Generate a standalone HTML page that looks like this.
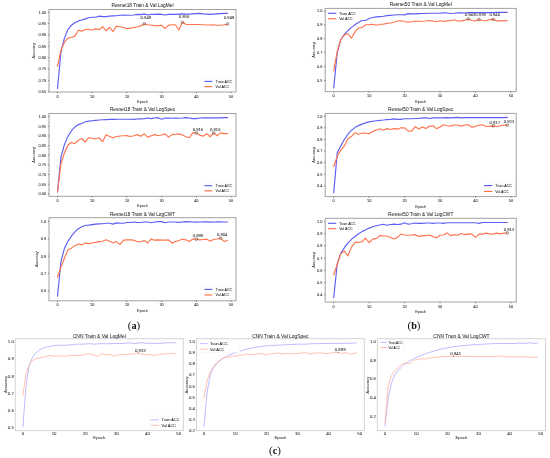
<!DOCTYPE html>
<html><head><meta charset="utf-8"><style>
html,body{margin:0;padding:0;background:#fff;}
body{width:550px;height:458px;overflow:hidden;}
svg{display:block;font-family:"Liberation Sans", sans-serif;}
</style></head><body>
<svg width="550" height="458" viewBox="0 0 550 458">
<rect width="550" height="458" fill="#fff"/>
<polyline points="57.50,88.44 60.97,51.73 64.44,38.13 67.91,29.52 71.38,25.22 74.85,22.72 78.32,20.91 81.79,20.00 85.26,18.87 88.73,17.74 92.20,17.29 95.67,17.29 99.14,16.15 102.61,16.61 106.08,16.61 109.55,16.15 113.02,15.93 116.49,15.70 119.96,15.25 123.43,15.02 126.90,15.25 130.37,15.25 133.84,15.02 137.31,14.34 140.78,14.57 144.25,13.89 147.72,15.02 151.19,14.34 154.66,14.34 158.13,14.11 161.60,14.34 165.07,15.02 168.54,14.34 172.01,14.34 175.48,14.34 178.95,14.11 182.42,13.89 185.89,14.11 189.36,14.11 192.83,13.89 196.30,13.66 199.77,13.43 203.24,13.89 206.71,14.11 210.18,14.34 213.65,14.11 217.12,13.89 220.59,13.66 224.06,13.43 227.53,13.43" fill="none" stroke="#5d5df5" stroke-width="1.15" stroke-linejoin="round" stroke-linecap="round"/>
<polyline points="57.50,66.46 60.97,50.14 64.44,42.21 67.91,38.13 71.38,37.45 74.85,36.09 78.32,30.20 81.79,31.11 85.26,29.52 88.73,29.29 92.20,30.20 95.67,28.62 99.14,29.75 102.61,26.58 106.08,30.88 109.55,27.26 113.02,31.56 116.49,26.12 119.96,26.80 123.43,27.48 126.90,28.62 130.37,28.16 133.84,27.48 137.31,26.80 140.78,25.90 144.25,23.86 147.72,24.76 151.19,25.22 154.66,25.67 158.13,25.90 161.60,25.22 165.07,28.62 168.54,25.22 172.01,24.76 175.48,24.76 178.95,29.97 182.42,22.27 185.89,24.31 189.36,24.54 192.83,24.54 196.30,24.54 199.77,24.54 203.24,24.76 206.71,24.99 210.18,24.99 213.65,24.76 217.12,25.22 220.59,25.22 224.06,24.76 227.53,24.08" fill="none" stroke="#ff744c" stroke-width="1.15" stroke-linejoin="round" stroke-linecap="round"/>
<rect x="49" y="9.5" width="187.00" height="82.50" fill="none" stroke="#a2a2a2" stroke-width="1.0"/>
<line x1="47.80" y1="12.30" x2="49" y2="12.30" stroke="#555" stroke-width="0.7"/>
<line x1="47.80" y1="23.63" x2="49" y2="23.63" stroke="#555" stroke-width="0.7"/>
<line x1="47.80" y1="34.96" x2="49" y2="34.96" stroke="#555" stroke-width="0.7"/>
<line x1="47.80" y1="46.29" x2="49" y2="46.29" stroke="#555" stroke-width="0.7"/>
<line x1="47.80" y1="57.62" x2="49" y2="57.62" stroke="#555" stroke-width="0.7"/>
<line x1="47.80" y1="68.95" x2="49" y2="68.95" stroke="#555" stroke-width="0.7"/>
<line x1="47.80" y1="80.28" x2="49" y2="80.28" stroke="#555" stroke-width="0.7"/>
<line x1="47.80" y1="91.61" x2="49" y2="91.61" stroke="#555" stroke-width="0.7"/>
<line x1="57.50" y1="92" x2="57.50" y2="93.20" stroke="#555" stroke-width="0.7"/>
<line x1="92.20" y1="92" x2="92.20" y2="93.20" stroke="#555" stroke-width="0.7"/>
<line x1="126.90" y1="92" x2="126.90" y2="93.20" stroke="#555" stroke-width="0.7"/>
<line x1="161.60" y1="92" x2="161.60" y2="93.20" stroke="#555" stroke-width="0.7"/>
<line x1="196.30" y1="92" x2="196.30" y2="93.20" stroke="#555" stroke-width="0.7"/>
<line x1="231.00" y1="92" x2="231.00" y2="93.20" stroke="#555" stroke-width="0.7"/>
<rect x="203.2" y="78.4" width="30.60" height="11.80" rx="0.8" fill="#fff" fill-opacity="0.8" stroke="#ececec" stroke-width="0.3"/>
<line x1="204.5" y1="81.4" x2="212.3" y2="81.4" stroke="#5d5df5" stroke-width="1.15"/>
<line x1="204.5" y1="86.6" x2="212.3" y2="86.6" stroke="#ff744c" stroke-width="1.15"/>
<circle cx="144.25" cy="23.86" r="1.4" fill="none" stroke="#444" stroke-width="0.5"/>
<circle cx="182.42" cy="22.27" r="1.4" fill="none" stroke="#444" stroke-width="0.5"/>
<circle cx="227.53" cy="24.08" r="1.4" fill="none" stroke="#444" stroke-width="0.5"/>
<polyline points="57.50,192.07 60.97,157.18 64.44,144.46 67.91,136.36 71.38,130.96 74.85,126.92 78.32,124.60 81.79,123.45 85.26,121.71 88.73,121.13 92.20,120.75 95.67,120.36 99.14,119.98 102.61,119.78 106.08,119.59 109.55,119.40 113.02,119.30 116.49,119.30 119.96,119.21 123.43,119.21 126.90,119.21 130.37,119.21 133.84,119.40 137.31,119.01 140.78,118.82 144.25,118.63 147.72,118.05 151.19,118.63 154.66,118.05 158.13,117.66 161.60,119.21 165.07,118.05 168.54,118.05 172.01,118.24 175.48,118.05 178.95,118.24 182.42,118.05 185.89,117.66 189.36,118.05 192.83,118.63 196.30,118.63 199.77,118.05 203.24,117.86 206.71,117.86 210.18,117.86 213.65,117.86 217.12,117.86 220.59,117.86 224.06,117.66 227.53,117.66" fill="none" stroke="#5d5df5" stroke-width="1.15" stroke-linejoin="round" stroke-linecap="round"/>
<polyline points="57.50,192.07 60.97,163.73 64.44,152.94 67.91,145.03 71.38,142.53 74.85,143.69 78.32,140.22 81.79,138.48 85.26,142.14 88.73,137.71 92.20,138.29 95.67,139.06 99.14,137.71 102.61,141.76 106.08,134.63 109.55,136.55 113.02,137.71 116.49,136.55 119.96,135.97 123.43,135.78 126.90,135.59 130.37,136.55 133.84,135.78 137.31,134.63 140.78,136.17 144.25,133.85 147.72,137.13 151.19,135.78 154.66,134.63 158.13,135.78 161.60,135.01 165.07,133.85 168.54,137.13 172.01,134.63 175.48,134.24 178.95,133.85 182.42,135.01 185.89,136.75 189.36,137.71 192.83,132.70 196.30,132.89 199.77,135.20 203.24,136.17 206.71,133.66 210.18,136.75 213.65,132.89 217.12,135.78 220.59,132.89 224.06,133.66 227.53,133.66" fill="none" stroke="#ff744c" stroke-width="1.15" stroke-linejoin="round" stroke-linecap="round"/>
<rect x="49" y="113.5" width="187.00" height="82.80" fill="none" stroke="#a2a2a2" stroke-width="1.0"/>
<line x1="47.80" y1="116.70" x2="49" y2="116.70" stroke="#555" stroke-width="0.7"/>
<line x1="47.80" y1="126.34" x2="49" y2="126.34" stroke="#555" stroke-width="0.7"/>
<line x1="47.80" y1="135.97" x2="49" y2="135.97" stroke="#555" stroke-width="0.7"/>
<line x1="47.80" y1="145.61" x2="49" y2="145.61" stroke="#555" stroke-width="0.7"/>
<line x1="47.80" y1="155.25" x2="49" y2="155.25" stroke="#555" stroke-width="0.7"/>
<line x1="47.80" y1="164.89" x2="49" y2="164.89" stroke="#555" stroke-width="0.7"/>
<line x1="47.80" y1="174.53" x2="49" y2="174.53" stroke="#555" stroke-width="0.7"/>
<line x1="47.80" y1="184.16" x2="49" y2="184.16" stroke="#555" stroke-width="0.7"/>
<line x1="47.80" y1="193.80" x2="49" y2="193.80" stroke="#555" stroke-width="0.7"/>
<line x1="57.50" y1="196.3" x2="57.50" y2="197.50" stroke="#555" stroke-width="0.7"/>
<line x1="92.20" y1="196.3" x2="92.20" y2="197.50" stroke="#555" stroke-width="0.7"/>
<line x1="126.90" y1="196.3" x2="126.90" y2="197.50" stroke="#555" stroke-width="0.7"/>
<line x1="161.60" y1="196.3" x2="161.60" y2="197.50" stroke="#555" stroke-width="0.7"/>
<line x1="196.30" y1="196.3" x2="196.30" y2="197.50" stroke="#555" stroke-width="0.7"/>
<line x1="231.00" y1="196.3" x2="231.00" y2="197.50" stroke="#555" stroke-width="0.7"/>
<rect x="203.2" y="182.7" width="30.60" height="11.80" rx="0.8" fill="#fff" fill-opacity="0.8" stroke="#ececec" stroke-width="0.3"/>
<line x1="204.5" y1="185.7" x2="212.3" y2="185.7" stroke="#5d5df5" stroke-width="1.15"/>
<line x1="204.5" y1="190.9" x2="212.3" y2="190.9" stroke="#ff744c" stroke-width="1.15"/>
<circle cx="196.30" cy="132.89" r="1.4" fill="none" stroke="#444" stroke-width="0.5"/>
<circle cx="213.65" cy="132.89" r="1.4" fill="none" stroke="#444" stroke-width="0.5"/>
<polyline points="57.50,296.24 60.97,261.29 64.44,248.31 67.91,241.40 71.38,236.20 74.85,231.88 78.32,228.77 81.79,226.69 85.26,225.48 88.73,225.13 92.20,224.61 95.67,224.09 99.14,223.92 102.61,223.75 106.08,223.23 109.55,223.23 113.02,224.09 116.49,222.88 119.96,223.23 123.43,223.23 126.90,222.54 130.37,222.54 133.84,222.02 137.31,222.54 140.78,222.54 144.25,222.02 147.72,222.02 151.19,222.71 154.66,222.02 158.13,221.67 161.60,221.67 165.07,222.71 168.54,222.02 172.01,222.02 175.48,222.02 178.95,222.37 182.42,222.02 185.89,221.67 189.36,221.85 192.83,222.02 196.30,222.19 199.77,222.02 203.24,221.85 206.71,221.85 210.18,222.19 213.65,222.02 217.12,221.85 220.59,221.85 224.06,222.02 227.53,222.02" fill="none" stroke="#5d5df5" stroke-width="1.15" stroke-linejoin="round" stroke-linecap="round"/>
<polyline points="57.50,277.21 60.97,267.17 64.44,258.00 67.91,250.05 71.38,248.14 74.85,245.72 78.32,243.99 81.79,244.85 85.26,242.95 88.73,243.64 92.20,242.95 95.67,242.43 99.14,241.57 102.61,241.22 106.08,239.84 109.55,241.22 113.02,242.78 116.49,241.57 119.96,244.68 123.43,240.18 126.90,239.84 130.37,239.84 133.84,240.18 137.31,241.74 140.78,241.74 144.25,240.53 147.72,242.95 151.19,239.15 154.66,240.18 158.13,239.84 161.60,240.18 165.07,240.18 168.54,239.84 172.01,243.12 175.48,241.57 178.95,240.53 182.42,239.32 185.89,239.84 189.36,241.57 192.83,238.97 196.30,239.15 199.77,239.84 203.24,239.49 206.71,239.15 210.18,241.05 213.65,239.49 217.12,238.97 220.59,238.11 224.06,241.40 227.53,240.53" fill="none" stroke="#ff744c" stroke-width="1.15" stroke-linejoin="round" stroke-linecap="round"/>
<rect x="49" y="217.7" width="187.00" height="83.10" fill="none" stroke="#a2a2a2" stroke-width="1.0"/>
<line x1="47.80" y1="221.50" x2="49" y2="221.50" stroke="#555" stroke-width="0.7"/>
<line x1="47.80" y1="238.80" x2="49" y2="238.80" stroke="#555" stroke-width="0.7"/>
<line x1="47.80" y1="256.10" x2="49" y2="256.10" stroke="#555" stroke-width="0.7"/>
<line x1="47.80" y1="273.40" x2="49" y2="273.40" stroke="#555" stroke-width="0.7"/>
<line x1="47.80" y1="290.70" x2="49" y2="290.70" stroke="#555" stroke-width="0.7"/>
<line x1="57.50" y1="300.8" x2="57.50" y2="302.00" stroke="#555" stroke-width="0.7"/>
<line x1="92.20" y1="300.8" x2="92.20" y2="302.00" stroke="#555" stroke-width="0.7"/>
<line x1="126.90" y1="300.8" x2="126.90" y2="302.00" stroke="#555" stroke-width="0.7"/>
<line x1="161.60" y1="300.8" x2="161.60" y2="302.00" stroke="#555" stroke-width="0.7"/>
<line x1="196.30" y1="300.8" x2="196.30" y2="302.00" stroke="#555" stroke-width="0.7"/>
<line x1="231.00" y1="300.8" x2="231.00" y2="302.00" stroke="#555" stroke-width="0.7"/>
<rect x="203.2" y="286.4" width="30.60" height="12.20" rx="0.8" fill="#fff" fill-opacity="0.8" stroke="#ececec" stroke-width="0.3"/>
<line x1="204.5" y1="289.4" x2="212.3" y2="289.4" stroke="#5d5df5" stroke-width="1.15"/>
<line x1="204.5" y1="295.0" x2="212.3" y2="295.0" stroke="#ff744c" stroke-width="1.15"/>
<circle cx="196.30" cy="239.15" r="1.4" fill="none" stroke="#444" stroke-width="0.5"/>
<circle cx="220.59" cy="238.11" r="1.4" fill="none" stroke="#444" stroke-width="0.5"/>
<polyline points="333.70,87.87 337.24,52.70 340.79,39.77 344.33,34.35 347.88,30.60 351.42,27.40 354.96,24.76 358.51,22.26 362.05,20.45 365.60,20.45 369.14,18.51 372.68,17.53 376.23,16.84 379.77,16.56 383.32,16.28 386.86,15.59 390.40,15.31 393.95,15.03 397.49,14.75 401.04,14.75 404.58,14.89 408.12,13.64 411.67,13.92 415.21,13.92 418.76,13.64 422.30,13.50 425.84,13.50 429.39,13.22 432.93,13.22 436.48,13.22 440.02,13.22 443.56,12.81 447.11,12.95 450.65,13.50 454.20,13.22 457.74,12.81 461.28,12.81 464.83,12.95 468.37,12.67 471.92,12.67 475.46,12.67 479.00,12.67 482.55,12.67 486.09,12.67 489.64,12.67 493.18,12.67 496.72,12.39 500.27,12.39 503.81,12.39 507.36,12.39" fill="none" stroke="#5d5df5" stroke-width="1.15" stroke-linejoin="round" stroke-linecap="round"/>
<polyline points="333.70,70.91 337.24,51.31 340.79,39.49 344.33,35.05 347.88,33.52 351.42,38.24 354.96,31.85 358.51,27.96 362.05,27.68 365.60,24.76 369.14,24.62 372.68,24.20 376.23,25.18 379.77,24.20 383.32,24.20 386.86,23.37 390.40,22.95 393.95,22.26 397.49,21.01 401.04,20.73 404.58,21.70 408.12,22.12 411.67,21.70 415.21,21.01 418.76,21.29 422.30,21.29 425.84,21.01 429.39,20.45 432.93,21.01 436.48,21.70 440.02,20.73 443.56,21.56 447.11,20.87 450.65,20.73 454.20,19.76 457.74,21.01 461.28,20.87 464.83,20.17 468.37,18.92 471.92,20.45 475.46,20.87 479.00,19.48 482.55,20.45 486.09,20.73 489.64,19.62 493.18,19.34 496.72,20.87 500.27,20.87 503.81,20.45 507.36,20.73" fill="none" stroke="#ff744c" stroke-width="1.15" stroke-linejoin="round" stroke-linecap="round"/>
<rect x="325.2" y="8.4" width="191.00" height="83.20" fill="none" stroke="#a2a2a2" stroke-width="1.0"/>
<line x1="324.00" y1="11.00" x2="325.2" y2="11.00" stroke="#555" stroke-width="0.7"/>
<line x1="324.00" y1="24.90" x2="325.2" y2="24.90" stroke="#555" stroke-width="0.7"/>
<line x1="324.00" y1="38.80" x2="325.2" y2="38.80" stroke="#555" stroke-width="0.7"/>
<line x1="324.00" y1="52.70" x2="325.2" y2="52.70" stroke="#555" stroke-width="0.7"/>
<line x1="324.00" y1="66.60" x2="325.2" y2="66.60" stroke="#555" stroke-width="0.7"/>
<line x1="324.00" y1="80.50" x2="325.2" y2="80.50" stroke="#555" stroke-width="0.7"/>
<line x1="333.70" y1="91.6" x2="333.70" y2="92.80" stroke="#555" stroke-width="0.7"/>
<line x1="369.14" y1="91.6" x2="369.14" y2="92.80" stroke="#555" stroke-width="0.7"/>
<line x1="404.58" y1="91.6" x2="404.58" y2="92.80" stroke="#555" stroke-width="0.7"/>
<line x1="440.02" y1="91.6" x2="440.02" y2="92.80" stroke="#555" stroke-width="0.7"/>
<line x1="475.46" y1="91.6" x2="475.46" y2="92.80" stroke="#555" stroke-width="0.7"/>
<line x1="510.90" y1="91.6" x2="510.90" y2="92.80" stroke="#555" stroke-width="0.7"/>
<rect x="326.7" y="9.9" width="31.80" height="11.80" rx="0.8" fill="#fff" fill-opacity="0.8" stroke="#ececec" stroke-width="0.3"/>
<line x1="328" y1="13.3" x2="336.3" y2="13.3" stroke="#5d5df5" stroke-width="1.15"/>
<line x1="328" y1="18.8" x2="336.3" y2="18.8" stroke="#ff744c" stroke-width="1.15"/>
<circle cx="468.37" cy="18.92" r="1.4" fill="none" stroke="#444" stroke-width="0.5"/>
<circle cx="479.00" cy="19.48" r="1.4" fill="none" stroke="#444" stroke-width="0.5"/>
<circle cx="493.18" cy="19.34" r="1.4" fill="none" stroke="#444" stroke-width="0.5"/>
<polyline points="333.70,192.84 337.24,152.83 340.79,145.86 344.33,139.46 347.88,134.23 351.42,130.39 354.96,127.60 358.51,125.62 362.05,124.11 365.60,122.83 369.14,121.90 372.68,121.20 376.23,120.74 379.77,120.39 383.32,120.04 386.86,119.57 390.40,119.34 393.95,118.87 397.49,119.34 401.04,119.34 404.58,118.76 408.12,118.76 411.67,118.76 415.21,118.53 418.76,118.53 422.30,117.94 425.84,117.94 429.39,118.53 432.93,117.94 436.48,117.94 440.02,117.94 443.56,117.94 447.11,117.60 450.65,117.94 454.20,117.60 457.74,117.36 461.28,117.94 464.83,117.60 468.37,117.60 471.92,117.60 475.46,117.60 479.00,117.60 482.55,117.60 486.09,117.60 489.64,117.60 493.18,117.60 496.72,117.60 500.27,117.60 503.81,117.60 507.36,117.36" fill="none" stroke="#5d5df5" stroke-width="1.15" stroke-linejoin="round" stroke-linecap="round"/>
<polyline points="333.70,166.44 337.24,156.32 340.79,150.16 344.33,145.97 347.88,138.76 351.42,136.55 354.96,132.71 358.51,134.23 362.05,132.95 365.60,133.30 369.14,133.65 372.68,131.44 376.23,130.16 379.77,128.76 383.32,130.27 386.86,128.64 390.40,129.46 393.95,128.64 397.49,129.11 401.04,127.83 404.58,127.83 408.12,130.85 411.67,131.20 415.21,126.55 418.76,129.11 422.30,126.90 425.84,128.53 429.39,126.32 432.93,125.74 436.48,128.64 440.02,126.90 443.56,124.81 447.11,125.74 450.65,126.09 454.20,125.04 457.74,125.04 461.28,126.09 464.83,125.04 468.37,124.81 471.92,127.25 475.46,126.32 479.00,125.27 482.55,124.81 486.09,126.55 489.64,126.32 493.18,125.85 496.72,126.55 500.27,125.74 503.81,125.04 507.36,125.16" fill="none" stroke="#ff744c" stroke-width="1.15" stroke-linejoin="round" stroke-linecap="round"/>
<rect x="325.2" y="113.4" width="191.00" height="83.20" fill="none" stroke="#a2a2a2" stroke-width="1.0"/>
<line x1="324.00" y1="116.20" x2="325.2" y2="116.20" stroke="#555" stroke-width="0.7"/>
<line x1="324.00" y1="127.83" x2="325.2" y2="127.83" stroke="#555" stroke-width="0.7"/>
<line x1="324.00" y1="139.46" x2="325.2" y2="139.46" stroke="#555" stroke-width="0.7"/>
<line x1="324.00" y1="151.09" x2="325.2" y2="151.09" stroke="#555" stroke-width="0.7"/>
<line x1="324.00" y1="162.72" x2="325.2" y2="162.72" stroke="#555" stroke-width="0.7"/>
<line x1="324.00" y1="174.35" x2="325.2" y2="174.35" stroke="#555" stroke-width="0.7"/>
<line x1="324.00" y1="185.98" x2="325.2" y2="185.98" stroke="#555" stroke-width="0.7"/>
<line x1="333.70" y1="196.6" x2="333.70" y2="197.80" stroke="#555" stroke-width="0.7"/>
<line x1="369.14" y1="196.6" x2="369.14" y2="197.80" stroke="#555" stroke-width="0.7"/>
<line x1="404.58" y1="196.6" x2="404.58" y2="197.80" stroke="#555" stroke-width="0.7"/>
<line x1="440.02" y1="196.6" x2="440.02" y2="197.80" stroke="#555" stroke-width="0.7"/>
<line x1="475.46" y1="196.6" x2="475.46" y2="197.80" stroke="#555" stroke-width="0.7"/>
<line x1="510.90" y1="196.6" x2="510.90" y2="197.80" stroke="#555" stroke-width="0.7"/>
<rect x="483.2" y="182.5" width="31.30" height="12.00" rx="0.8" fill="#fff" fill-opacity="0.8" stroke="#ececec" stroke-width="0.3"/>
<line x1="484" y1="185.6" x2="492.3" y2="185.6" stroke="#5d5df5" stroke-width="1.15"/>
<line x1="484" y1="191.4" x2="492.3" y2="191.4" stroke="#ff744c" stroke-width="1.15"/>
<circle cx="493.18" cy="125.85" r="1.4" fill="none" stroke="#444" stroke-width="0.5"/>
<circle cx="507.36" cy="125.16" r="1.4" fill="none" stroke="#444" stroke-width="0.5"/>
<polyline points="333.70,297.75 337.24,263.59 340.79,253.22 344.33,247.73 347.88,243.22 351.42,239.43 354.96,236.51 358.51,233.82 362.05,231.63 365.60,229.80 369.14,228.09 372.68,226.75 376.23,225.77 379.77,225.04 383.32,224.31 386.86,225.28 390.40,224.55 393.95,224.18 397.49,224.55 401.04,224.18 404.58,222.72 408.12,224.18 411.67,223.70 415.21,222.96 418.76,223.33 422.30,223.33 425.84,222.96 429.39,222.96 432.93,223.33 436.48,222.96 440.02,222.96 443.56,223.33 447.11,222.72 450.65,222.72 454.20,222.72 457.74,222.72 461.28,222.72 464.83,222.72 468.37,222.72 471.92,222.72 475.46,222.72 479.00,223.33 482.55,222.48 486.09,222.48 489.64,222.48 493.18,222.48 496.72,222.48 500.27,222.48 503.81,222.48 507.36,222.48" fill="none" stroke="#5d5df5" stroke-width="1.15" stroke-linejoin="round" stroke-linecap="round"/>
<polyline points="333.70,274.81 337.24,264.44 340.79,253.83 344.33,250.90 347.88,255.90 351.42,247.12 354.96,242.36 358.51,242.36 362.05,241.75 365.60,238.21 369.14,242.73 372.68,239.19 376.23,238.58 379.77,235.65 383.32,236.02 386.86,236.02 390.40,237.24 393.95,238.95 397.49,237.36 401.04,234.07 404.58,235.04 408.12,235.29 411.67,235.04 415.21,234.68 418.76,236.38 422.30,235.65 425.84,235.65 429.39,235.04 432.93,236.63 436.48,237.73 440.02,235.29 443.56,235.04 447.11,232.85 450.65,235.65 454.20,234.68 457.74,235.29 461.28,233.46 464.83,234.68 468.37,233.82 471.92,234.07 475.46,237.36 479.00,234.07 482.55,234.07 486.09,233.09 489.64,234.07 493.18,233.82 496.72,233.09 500.27,233.82 503.81,233.09 507.36,232.97" fill="none" stroke="#ff744c" stroke-width="1.15" stroke-linejoin="round" stroke-linecap="round"/>
<rect x="325.2" y="218.3" width="191.00" height="83.70" fill="none" stroke="#a2a2a2" stroke-width="1.0"/>
<line x1="324.00" y1="221.50" x2="325.2" y2="221.50" stroke="#555" stroke-width="0.7"/>
<line x1="324.00" y1="233.70" x2="325.2" y2="233.70" stroke="#555" stroke-width="0.7"/>
<line x1="324.00" y1="245.90" x2="325.2" y2="245.90" stroke="#555" stroke-width="0.7"/>
<line x1="324.00" y1="258.10" x2="325.2" y2="258.10" stroke="#555" stroke-width="0.7"/>
<line x1="324.00" y1="270.30" x2="325.2" y2="270.30" stroke="#555" stroke-width="0.7"/>
<line x1="324.00" y1="282.50" x2="325.2" y2="282.50" stroke="#555" stroke-width="0.7"/>
<line x1="324.00" y1="294.70" x2="325.2" y2="294.70" stroke="#555" stroke-width="0.7"/>
<line x1="333.70" y1="302" x2="333.70" y2="303.20" stroke="#555" stroke-width="0.7"/>
<line x1="369.14" y1="302" x2="369.14" y2="303.20" stroke="#555" stroke-width="0.7"/>
<line x1="404.58" y1="302" x2="404.58" y2="303.20" stroke="#555" stroke-width="0.7"/>
<line x1="440.02" y1="302" x2="440.02" y2="303.20" stroke="#555" stroke-width="0.7"/>
<line x1="475.46" y1="302" x2="475.46" y2="303.20" stroke="#555" stroke-width="0.7"/>
<line x1="510.90" y1="302" x2="510.90" y2="303.20" stroke="#555" stroke-width="0.7"/>
<rect x="326.7" y="220" width="31.80" height="11.50" rx="0.8" fill="#fff" fill-opacity="0.8" stroke="#ececec" stroke-width="0.3"/>
<line x1="328" y1="223.3" x2="336.3" y2="223.3" stroke="#5d5df5" stroke-width="1.15"/>
<line x1="328" y1="228.7" x2="336.3" y2="228.7" stroke="#ff744c" stroke-width="1.15"/>
<circle cx="507.36" cy="232.97" r="1.4" fill="none" stroke="#444" stroke-width="0.5"/>
<polyline points="22.90,426.62 26.02,386.09 29.13,365.40 32.24,358.05 35.36,353.60 38.48,350.69 41.59,348.81 44.70,347.44 47.82,346.93 50.94,346.25 54.05,345.56 57.16,345.39 60.28,345.39 63.40,345.22 66.51,345.22 69.62,344.88 72.74,344.71 75.86,344.37 78.97,344.02 82.09,344.19 85.20,344.02 88.31,343.68 91.43,343.85 94.55,344.19 97.66,343.85 100.78,343.68 103.89,343.68 107.00,343.85 110.12,343.68 113.24,343.51 116.35,343.51 119.47,343.51 122.58,343.51 125.69,343.17 128.81,342.83 131.93,343.17 135.04,343.51 138.16,343.17 141.27,342.66 144.39,343.17 147.50,343.34 150.62,343.34 153.73,343.34 156.85,343.34 159.96,343.34 163.08,343.17 166.19,342.83 169.31,342.66 172.42,342.66 175.54,342.83" fill="none" stroke="#a6a6ff" stroke-width="0.75" stroke-linejoin="round" stroke-linecap="round"/>
<polyline points="22.90,395.15 26.02,373.44 29.13,365.40 32.24,360.78 35.36,359.07 38.48,358.05 41.59,357.53 44.70,356.68 47.82,355.82 50.94,355.48 54.05,356.33 57.16,355.82 60.28,356.33 63.40,355.82 66.51,356.33 69.62,355.48 72.74,355.82 75.86,355.14 78.97,355.48 82.09,355.14 85.20,354.45 88.31,353.60 91.43,354.45 94.55,355.14 97.66,356.68 100.78,353.77 103.89,354.45 107.00,354.80 110.12,354.45 113.24,356.16 116.35,355.31 119.47,354.80 122.58,354.45 125.69,354.45 128.81,354.11 131.93,354.11 135.04,353.60 138.16,352.92 141.27,353.94 144.39,354.45 147.50,354.80 150.62,354.45 153.73,355.48 156.85,355.14 159.96,354.45 163.08,353.94 166.19,353.60 169.31,353.94 172.42,353.26 175.54,353.94" fill="none" stroke="#ffab93" stroke-width="0.75" stroke-linejoin="round" stroke-linecap="round"/>
<rect x="15.3" y="338.7" width="168.00" height="91.90" fill="none" stroke="#d4d4d4" stroke-width="1.0"/>
<rect x="149.1" y="416.4" width="33.40" height="12.50" rx="0.8" fill="#fff" fill-opacity="0.8" stroke="#ececec" stroke-width="0.3"/>
<line x1="150.7" y1="419.8" x2="158.9" y2="419.8" stroke="#a6a6ff" stroke-width="0.75"/>
<line x1="150.7" y1="425.3" x2="158.9" y2="425.3" stroke="#ffab93" stroke-width="0.75"/>
<circle cx="138.16" cy="352.92" r="0.5" fill="#444"/>
<polyline points="204.00,426.29 207.12,391.66 210.23,375.23 213.34,368.46 216.46,364.02 219.57,361.14 222.69,358.58 225.81,356.70 228.92,355.14 232.03,353.92 235.15,352.59 238.26,351.59 241.38,350.70 244.50,349.70 247.61,348.93 250.72,348.15 253.84,347.59 256.95,347.15 260.07,346.60 263.19,346.26 266.30,345.82 269.42,345.71 272.53,345.49 275.64,345.37 278.76,345.15 281.88,345.04 284.99,344.82 288.11,344.71 291.22,344.49 294.34,344.38 297.45,344.15 300.56,344.04 303.68,344.38 306.80,344.04 309.91,343.82 313.02,343.71 316.14,343.60 319.25,343.60 322.37,343.49 325.49,343.49 328.60,343.49 331.72,343.38 334.83,343.38 337.95,343.38 341.06,343.38 344.18,343.38 347.29,343.27 350.40,343.27 353.52,343.04 356.63,342.93" fill="none" stroke="#a6a6ff" stroke-width="0.75" stroke-linejoin="round" stroke-linecap="round"/>
<polyline points="204.00,397.99 207.12,380.67 210.23,372.01 213.34,366.69 216.46,362.91 219.57,360.47 222.69,358.58 225.81,357.25 228.92,356.92 232.03,356.36 235.15,356.03 238.26,355.36 241.38,355.14 244.50,354.81 247.61,353.92 250.72,354.48 253.84,354.48 256.95,354.14 260.07,353.48 263.19,354.03 266.30,354.70 269.42,354.03 272.53,353.48 275.64,353.48 278.76,352.81 281.88,354.37 284.99,353.48 288.11,353.48 291.22,353.81 294.34,353.81 297.45,353.48 300.56,353.14 303.68,352.81 306.80,352.70 309.91,354.14 313.02,353.14 316.14,353.14 319.25,352.81 322.37,353.14 325.49,353.48 328.60,353.48 331.72,352.81 334.83,352.59 337.95,352.26 341.06,353.48 344.18,352.59 347.29,353.14 350.40,354.37 353.52,353.48 356.63,352.81" fill="none" stroke="#ffab93" stroke-width="0.75" stroke-linejoin="round" stroke-linecap="round"/>
<rect x="196.4" y="338.7" width="167.90" height="91.90" fill="none" stroke="#d4d4d4" stroke-width="1.0"/>
<rect x="198" y="339.5" width="42.00" height="13.00" rx="0.8" fill="#fff" fill-opacity="0.8" stroke="#ececec" stroke-width="0.3"/>
<line x1="200" y1="343.6" x2="207.5" y2="343.6" stroke="#a6a6ff" stroke-width="0.75"/>
<line x1="200" y1="349.1" x2="207.5" y2="349.1" stroke="#ffab93" stroke-width="0.75"/>
<circle cx="337.95" cy="352.26" r="0.5" fill="#444"/>
<polyline points="385.00,426.19 388.12,398.52 391.23,383.98 394.35,376.01 397.46,371.32 400.57,367.85 403.69,365.03 406.81,362.87 409.92,360.81 413.04,359.12 416.15,357.53 419.26,356.12 422.38,354.90 425.50,353.78 428.61,352.74 431.73,351.71 434.84,350.77 437.95,349.93 441.07,349.09 444.19,348.52 447.30,347.87 450.42,347.40 453.53,346.83 456.64,346.37 459.76,345.99 462.88,345.61 465.99,345.33 469.11,345.05 472.22,344.86 475.34,344.58 478.45,344.40 481.56,344.30 484.68,344.11 487.80,343.93 490.91,343.74 494.02,343.65 497.14,343.55 500.25,343.55 503.37,343.55 506.49,343.55 509.60,343.55 512.72,343.55 515.83,343.46 518.95,342.99 522.06,343.36 525.17,343.36 528.29,342.80 531.40,342.99 534.52,343.36 537.63,342.99" fill="none" stroke="#a6a6ff" stroke-width="0.75" stroke-linejoin="round" stroke-linecap="round"/>
<polyline points="385.00,422.91 388.12,387.26 391.23,376.19 394.35,371.50 397.46,368.03 400.57,365.50 403.69,363.44 406.81,362.78 409.92,363.81 413.04,360.62 416.15,359.59 419.26,359.12 422.38,358.75 425.50,359.12 428.61,358.09 431.73,357.81 434.84,357.43 437.95,357.15 441.07,356.78 444.19,356.68 447.30,356.50 450.42,356.40 453.53,356.21 456.64,356.40 459.76,356.50 462.88,356.40 465.99,356.21 469.11,356.40 472.22,356.50 475.34,356.59 478.45,356.78 481.56,356.78 484.68,356.50 487.80,356.78 490.91,356.50 494.02,356.96 497.14,356.03 500.25,356.50 503.37,356.03 506.49,356.78 509.60,356.78 512.72,356.78 515.83,356.78 518.95,356.78 522.06,356.78 525.17,356.78 528.29,356.78 531.40,357.62 534.52,356.78 537.63,357.43" fill="none" stroke="#ffab93" stroke-width="0.75" stroke-linejoin="round" stroke-linecap="round"/>
<rect x="377.4" y="338.7" width="168.10" height="91.90" fill="none" stroke="#d4d4d4" stroke-width="1.0"/>
<rect x="378.5" y="339.5" width="26.50" height="11.50" rx="0.8" fill="#fff" fill-opacity="0.8" stroke="#ececec" stroke-width="0.3"/>
<line x1="380.3" y1="342.4" x2="386.6" y2="342.4" stroke="#a6a6ff" stroke-width="0.75"/>
<line x1="380.3" y1="347.5" x2="386.6" y2="347.5" stroke="#ffab93" stroke-width="0.75"/>
<circle cx="453.53" cy="356.21" r="0.5" fill="#444"/>
<defs><filter id="nf" x="0" y="0" width="1" height="1"><feOffset dx="0" dy="0"/></filter></defs>
<g filter="url(#nf)" stroke="#222" stroke-width="0.03">
<text x="46.20" y="13.70" font-size="3.9" text-anchor="end" fill="#222">1.00</text>
<text x="46.20" y="25.03" font-size="3.9" text-anchor="end" fill="#222">0.95</text>
<text x="46.20" y="36.36" font-size="3.9" text-anchor="end" fill="#222">0.90</text>
<text x="46.20" y="47.69" font-size="3.9" text-anchor="end" fill="#222">0.85</text>
<text x="46.20" y="59.02" font-size="3.9" text-anchor="end" fill="#222">0.80</text>
<text x="46.20" y="70.35" font-size="3.9" text-anchor="end" fill="#222">0.75</text>
<text x="46.20" y="81.68" font-size="3.9" text-anchor="end" fill="#222">0.70</text>
<text x="46.20" y="93.01" font-size="3.9" text-anchor="end" fill="#222">0.65</text>
<text x="57.50" y="97.60" font-size="3.9" text-anchor="middle" fill="#222">0</text>
<text x="92.20" y="97.60" font-size="3.9" text-anchor="middle" fill="#222">10</text>
<text x="126.90" y="97.60" font-size="3.9" text-anchor="middle" fill="#222">20</text>
<text x="161.60" y="97.60" font-size="3.9" text-anchor="middle" fill="#222">30</text>
<text x="196.30" y="97.60" font-size="3.9" text-anchor="middle" fill="#222">40</text>
<text x="231.00" y="97.60" font-size="3.9" text-anchor="middle" fill="#222">50</text>
<text x="142.50" y="102.80" font-size="3.8" text-anchor="middle" fill="#222">Epoch</text>
<text x="0" y="0" font-size="3.8" text-anchor="middle" fill="#222" transform="translate(35.40,50.70) rotate(-90)">Accuracy</text>
<text x="142.50" y="6.90" font-size="4.8" text-anchor="middle" fill="#222">Resnet18 Train &amp; Val LogMel</text>
<text x="215.6" y="82.71" font-size="3.65" fill="#111">Train ACC</text>
<text x="215.6" y="87.91" font-size="3.65" fill="#111">Val ACC</text>
<text x="145.85" y="19.26" font-size="4.2" text-anchor="middle" fill="#222">0.949</text>
<text x="184.02" y="17.67" font-size="4.2" text-anchor="middle" fill="#222">0.956</text>
<text x="229.13" y="19.48" font-size="4.2" text-anchor="middle" fill="#222">0.948</text>
<text x="46.20" y="118.10" font-size="3.9" text-anchor="end" fill="#222">1.00</text>
<text x="46.20" y="127.74" font-size="3.9" text-anchor="end" fill="#222">0.95</text>
<text x="46.20" y="137.38" font-size="3.9" text-anchor="end" fill="#222">0.90</text>
<text x="46.20" y="147.02" font-size="3.9" text-anchor="end" fill="#222">0.85</text>
<text x="46.20" y="156.65" font-size="3.9" text-anchor="end" fill="#222">0.80</text>
<text x="46.20" y="166.29" font-size="3.9" text-anchor="end" fill="#222">0.75</text>
<text x="46.20" y="175.93" font-size="3.9" text-anchor="end" fill="#222">0.70</text>
<text x="46.20" y="185.57" font-size="3.9" text-anchor="end" fill="#222">0.65</text>
<text x="46.20" y="195.20" font-size="3.9" text-anchor="end" fill="#222">0.60</text>
<text x="57.50" y="201.90" font-size="3.9" text-anchor="middle" fill="#222">0</text>
<text x="92.20" y="201.90" font-size="3.9" text-anchor="middle" fill="#222">10</text>
<text x="126.90" y="201.90" font-size="3.9" text-anchor="middle" fill="#222">20</text>
<text x="161.60" y="201.90" font-size="3.9" text-anchor="middle" fill="#222">30</text>
<text x="196.30" y="201.90" font-size="3.9" text-anchor="middle" fill="#222">40</text>
<text x="231.00" y="201.90" font-size="3.9" text-anchor="middle" fill="#222">50</text>
<text x="142.50" y="207.10" font-size="3.8" text-anchor="middle" fill="#222">Epoch</text>
<text x="0" y="0" font-size="3.8" text-anchor="middle" fill="#222" transform="translate(35.40,155.00) rotate(-90)">Accuracy</text>
<text x="142.50" y="111.30" font-size="4.8" text-anchor="middle" fill="#222">Resnet18 Train &amp; Val LogSpec</text>
<text x="215.6" y="187.01" font-size="3.65" fill="#111">Train ACC</text>
<text x="215.6" y="192.21" font-size="3.65" fill="#111">Val ACC</text>
<text x="197.90" y="130.69" font-size="4.2" text-anchor="middle" fill="#222">0.916</text>
<text x="215.25" y="130.69" font-size="4.2" text-anchor="middle" fill="#222">0.916</text>
<text x="46.20" y="222.90" font-size="3.9" text-anchor="end" fill="#222">1.0</text>
<text x="46.20" y="240.20" font-size="3.9" text-anchor="end" fill="#222">0.9</text>
<text x="46.20" y="257.50" font-size="3.9" text-anchor="end" fill="#222">0.8</text>
<text x="46.20" y="274.80" font-size="3.9" text-anchor="end" fill="#222">0.7</text>
<text x="46.20" y="292.10" font-size="3.9" text-anchor="end" fill="#222">0.6</text>
<text x="57.50" y="306.40" font-size="3.9" text-anchor="middle" fill="#222">0</text>
<text x="92.20" y="306.40" font-size="3.9" text-anchor="middle" fill="#222">10</text>
<text x="126.90" y="306.40" font-size="3.9" text-anchor="middle" fill="#222">20</text>
<text x="161.60" y="306.40" font-size="3.9" text-anchor="middle" fill="#222">30</text>
<text x="196.30" y="306.40" font-size="3.9" text-anchor="middle" fill="#222">40</text>
<text x="231.00" y="306.40" font-size="3.9" text-anchor="middle" fill="#222">50</text>
<text x="142.50" y="311.60" font-size="3.8" text-anchor="middle" fill="#222">Epoch</text>
<text x="0" y="0" font-size="3.8" text-anchor="middle" fill="#222" transform="translate(37.90,259.30) rotate(-90)">Accuracy</text>
<text x="142.50" y="215.50" font-size="4.8" text-anchor="middle" fill="#222">Resnet18 Train &amp; Val LogCWT</text>
<text x="215.6" y="290.71" font-size="3.65" fill="#111">Train ACC</text>
<text x="215.6" y="296.31" font-size="3.65" fill="#111">Val ACC</text>
<text x="197.90" y="237.15" font-size="4.2" text-anchor="middle" fill="#222">0.898</text>
<text x="222.19" y="236.11" font-size="4.2" text-anchor="middle" fill="#222">0.904</text>
<text x="322.40" y="12.40" font-size="3.9" text-anchor="end" fill="#222">1.0</text>
<text x="322.40" y="26.30" font-size="3.9" text-anchor="end" fill="#222">0.9</text>
<text x="322.40" y="40.20" font-size="3.9" text-anchor="end" fill="#222">0.8</text>
<text x="322.40" y="54.10" font-size="3.9" text-anchor="end" fill="#222">0.7</text>
<text x="322.40" y="68.00" font-size="3.9" text-anchor="end" fill="#222">0.6</text>
<text x="322.40" y="81.90" font-size="3.9" text-anchor="end" fill="#222">0.5</text>
<text x="333.70" y="97.20" font-size="3.9" text-anchor="middle" fill="#222">0</text>
<text x="369.14" y="97.20" font-size="3.9" text-anchor="middle" fill="#222">10</text>
<text x="404.58" y="97.20" font-size="3.9" text-anchor="middle" fill="#222">20</text>
<text x="440.02" y="97.20" font-size="3.9" text-anchor="middle" fill="#222">30</text>
<text x="475.46" y="97.20" font-size="3.9" text-anchor="middle" fill="#222">40</text>
<text x="510.90" y="97.20" font-size="3.9" text-anchor="middle" fill="#222">50</text>
<text x="420.70" y="102.80" font-size="3.8" text-anchor="middle" fill="#222">Epoch</text>
<text x="0" y="0" font-size="3.8" text-anchor="middle" fill="#222" transform="translate(314.70,50.00) rotate(-90)">Accuracy</text>
<text x="420.70" y="6.30" font-size="4.8" text-anchor="middle" fill="#222">Resnet50 Train &amp; Val LogMel</text>
<text x="339.2" y="14.61" font-size="3.65" fill="#111">Train ACC</text>
<text x="339.2" y="20.11" font-size="3.65" fill="#111">Val ACC</text>
<text x="469.97" y="15.92" font-size="4.2" text-anchor="middle" fill="#222">0.943</text>
<text x="480.60" y="16.48" font-size="4.2" text-anchor="middle" fill="#222">0.939</text>
<text x="494.78" y="16.34" font-size="4.2" text-anchor="middle" fill="#222">0.940</text>
<text x="322.40" y="117.60" font-size="3.9" text-anchor="end" fill="#222">1.0</text>
<text x="322.40" y="129.23" font-size="3.9" text-anchor="end" fill="#222">0.9</text>
<text x="322.40" y="140.86" font-size="3.9" text-anchor="end" fill="#222">0.8</text>
<text x="322.40" y="152.49" font-size="3.9" text-anchor="end" fill="#222">0.7</text>
<text x="322.40" y="164.12" font-size="3.9" text-anchor="end" fill="#222">0.6</text>
<text x="322.40" y="175.75" font-size="3.9" text-anchor="end" fill="#222">0.5</text>
<text x="322.40" y="187.38" font-size="3.9" text-anchor="end" fill="#222">0.4</text>
<text x="333.70" y="202.20" font-size="3.9" text-anchor="middle" fill="#222">0</text>
<text x="369.14" y="202.20" font-size="3.9" text-anchor="middle" fill="#222">10</text>
<text x="404.58" y="202.20" font-size="3.9" text-anchor="middle" fill="#222">20</text>
<text x="440.02" y="202.20" font-size="3.9" text-anchor="middle" fill="#222">30</text>
<text x="475.46" y="202.20" font-size="3.9" text-anchor="middle" fill="#222">40</text>
<text x="510.90" y="202.20" font-size="3.9" text-anchor="middle" fill="#222">50</text>
<text x="420.70" y="207.80" font-size="3.8" text-anchor="middle" fill="#222">Epoch</text>
<text x="0" y="0" font-size="3.8" text-anchor="middle" fill="#222" transform="translate(314.70,155.00) rotate(-90)">Accuracy</text>
<text x="420.70" y="111.00" font-size="4.8" text-anchor="middle" fill="#222">Resnet50 Train &amp; Val LogSpec</text>
<text x="495.3" y="186.91" font-size="3.65" fill="#111">Train ACC</text>
<text x="495.3" y="192.71" font-size="3.65" fill="#111">Val ACC</text>
<text x="494.78" y="123.55" font-size="4.2" text-anchor="middle" fill="#222">0.917</text>
<text x="508.96" y="122.86" font-size="4.2" text-anchor="middle" fill="#222">0.923</text>
<text x="322.40" y="222.90" font-size="3.9" text-anchor="end" fill="#222">1.0</text>
<text x="322.40" y="235.10" font-size="3.9" text-anchor="end" fill="#222">0.9</text>
<text x="322.40" y="247.30" font-size="3.9" text-anchor="end" fill="#222">0.8</text>
<text x="322.40" y="259.50" font-size="3.9" text-anchor="end" fill="#222">0.7</text>
<text x="322.40" y="271.70" font-size="3.9" text-anchor="end" fill="#222">0.6</text>
<text x="322.40" y="283.90" font-size="3.9" text-anchor="end" fill="#222">0.5</text>
<text x="322.40" y="296.10" font-size="3.9" text-anchor="end" fill="#222">0.4</text>
<text x="333.70" y="307.60" font-size="3.9" text-anchor="middle" fill="#222">0</text>
<text x="369.14" y="307.60" font-size="3.9" text-anchor="middle" fill="#222">10</text>
<text x="404.58" y="307.60" font-size="3.9" text-anchor="middle" fill="#222">20</text>
<text x="440.02" y="307.60" font-size="3.9" text-anchor="middle" fill="#222">30</text>
<text x="475.46" y="307.60" font-size="3.9" text-anchor="middle" fill="#222">40</text>
<text x="510.90" y="307.60" font-size="3.9" text-anchor="middle" fill="#222">50</text>
<text x="420.70" y="313.00" font-size="3.8" text-anchor="middle" fill="#222">Epoch</text>
<text x="0" y="0" font-size="3.8" text-anchor="middle" fill="#222" transform="translate(314.70,260.00) rotate(-90)">Accuracy</text>
<text x="420.70" y="215.90" font-size="4.8" text-anchor="middle" fill="#222">Resnet50 Train &amp; Val LogCWT</text>
<text x="339.2" y="224.61" font-size="3.65" fill="#111">Train ACC</text>
<text x="339.2" y="230.01" font-size="3.65" fill="#111">Val ACC</text>
<text x="508.96" y="230.77" font-size="4.2" text-anchor="middle" fill="#222">0.913</text>
<text x="13.80" y="343.35" font-size="4.3" text-anchor="end" fill="#222">1.0</text>
<text x="13.80" y="360.45" font-size="4.3" text-anchor="end" fill="#222">0.9</text>
<text x="13.80" y="377.55" font-size="4.3" text-anchor="end" fill="#222">0.8</text>
<text x="13.80" y="394.65" font-size="4.3" text-anchor="end" fill="#222">0.7</text>
<text x="13.80" y="411.75" font-size="4.3" text-anchor="end" fill="#222">0.6</text>
<text x="13.80" y="428.85" font-size="4.3" text-anchor="end" fill="#222">0.5</text>
<text x="22.90" y="435.10" font-size="4.3" text-anchor="middle" fill="#222">0</text>
<text x="54.05" y="435.10" font-size="4.3" text-anchor="middle" fill="#222">10</text>
<text x="85.20" y="435.10" font-size="4.3" text-anchor="middle" fill="#222">20</text>
<text x="116.35" y="435.10" font-size="4.3" text-anchor="middle" fill="#222">30</text>
<text x="147.50" y="435.10" font-size="4.3" text-anchor="middle" fill="#222">40</text>
<text x="178.65" y="435.10" font-size="4.3" text-anchor="middle" fill="#222">50</text>
<text x="99.30" y="439.20" font-size="4.2" text-anchor="middle" fill="#222">Epoch</text>
<text x="0" y="0" font-size="4.2" text-anchor="middle" fill="#222" transform="translate(6.80,384.50) rotate(-90)">Accuracy</text>
<text x="99.30" y="337.50" font-size="4.9" text-anchor="middle" fill="#222">CNN Train &amp; Val LogMel</text>
<text x="161.6" y="421.22" font-size="3.95" fill="#111">Train ACC</text>
<text x="161.6" y="426.72" font-size="3.95" fill="#111">Val ACC</text>
<text x="140.35" y="351.72" font-size="4.3" text-anchor="middle" fill="#222">0.933</text>
<text x="194.90" y="343.15" font-size="4.3" text-anchor="end" fill="#222">1.0</text>
<text x="194.90" y="354.25" font-size="4.3" text-anchor="end" fill="#222">0.9</text>
<text x="194.90" y="365.35" font-size="4.3" text-anchor="end" fill="#222">0.8</text>
<text x="194.90" y="376.45" font-size="4.3" text-anchor="end" fill="#222">0.7</text>
<text x="194.90" y="387.55" font-size="4.3" text-anchor="end" fill="#222">0.6</text>
<text x="194.90" y="398.65" font-size="4.3" text-anchor="end" fill="#222">0.5</text>
<text x="194.90" y="409.75" font-size="4.3" text-anchor="end" fill="#222">0.4</text>
<text x="194.90" y="420.85" font-size="4.3" text-anchor="end" fill="#222">0.3</text>
<text x="194.90" y="431.95" font-size="4.3" text-anchor="end" fill="#222">0.2</text>
<text x="204.00" y="435.10" font-size="4.3" text-anchor="middle" fill="#222">0</text>
<text x="235.15" y="435.10" font-size="4.3" text-anchor="middle" fill="#222">10</text>
<text x="266.30" y="435.10" font-size="4.3" text-anchor="middle" fill="#222">20</text>
<text x="297.45" y="435.10" font-size="4.3" text-anchor="middle" fill="#222">30</text>
<text x="328.60" y="435.10" font-size="4.3" text-anchor="middle" fill="#222">40</text>
<text x="359.75" y="435.10" font-size="4.3" text-anchor="middle" fill="#222">50</text>
<text x="280.35" y="439.20" font-size="4.2" text-anchor="middle" fill="#222">Epoch</text>
<text x="0" y="0" font-size="4.2" text-anchor="middle" fill="#222" transform="translate(188.20,384.90) rotate(-90)">Accuracy</text>
<text x="280.35" y="337.50" font-size="4.9" text-anchor="middle" fill="#222">CNN Train &amp; Val LogSpec</text>
<text x="210" y="345.00" font-size="3.9" fill="#111">Train ACC</text>
<text x="210" y="350.50" font-size="3.9" fill="#111">Val ACC</text>
<text x="340.15" y="351.06" font-size="4.3" text-anchor="middle" fill="#222">0.899</text>
<text x="375.90" y="342.85" font-size="4.3" text-anchor="end" fill="#222">1.0</text>
<text x="375.90" y="361.61" font-size="4.3" text-anchor="end" fill="#222">0.8</text>
<text x="375.90" y="380.37" font-size="4.3" text-anchor="end" fill="#222">0.6</text>
<text x="375.90" y="399.13" font-size="4.3" text-anchor="end" fill="#222">0.4</text>
<text x="375.90" y="417.89" font-size="4.3" text-anchor="end" fill="#222">0.2</text>
<text x="385.00" y="435.10" font-size="4.3" text-anchor="middle" fill="#222">0</text>
<text x="416.15" y="435.10" font-size="4.3" text-anchor="middle" fill="#222">10</text>
<text x="447.30" y="435.10" font-size="4.3" text-anchor="middle" fill="#222">20</text>
<text x="478.45" y="435.10" font-size="4.3" text-anchor="middle" fill="#222">30</text>
<text x="509.60" y="435.10" font-size="4.3" text-anchor="middle" fill="#222">40</text>
<text x="540.75" y="435.10" font-size="4.3" text-anchor="middle" fill="#222">50</text>
<text x="461.45" y="439.20" font-size="4.2" text-anchor="middle" fill="#222">Epoch</text>
<text x="0" y="0" font-size="4.2" text-anchor="middle" fill="#222" transform="translate(369.00,385.20) rotate(-90)">Accuracy</text>
<text x="461.45" y="337.50" font-size="4.9" text-anchor="middle" fill="#222">CNN Train &amp; Val LogCWT</text>
<text x="388.5" y="343.52" font-size="3.1" fill="#111">Train ACC</text>
<text x="388.5" y="348.62" font-size="3.1" fill="#111">Val ACC</text>
<text x="455.73" y="355.01" font-size="4.3" text-anchor="middle" fill="#222">0.841</text>
<text x="134" y="328.9" font-family="Liberation Serif, serif" font-size="10.9" text-anchor="middle" fill="#111">(<tspan font-weight="bold" font-size="10.2">a</tspan>)</text>
<text x="414" y="328.9" font-family="Liberation Serif, serif" font-size="10.9" text-anchor="middle" fill="#111">(<tspan font-weight="bold" font-size="10.2">b</tspan>)</text>
<text x="275" y="453.6" font-family="Liberation Serif, serif" font-size="10.9" text-anchor="middle" fill="#111">(<tspan font-weight="bold" font-size="10.2">c</tspan>)</text>
</g>
</svg>
</body></html>
